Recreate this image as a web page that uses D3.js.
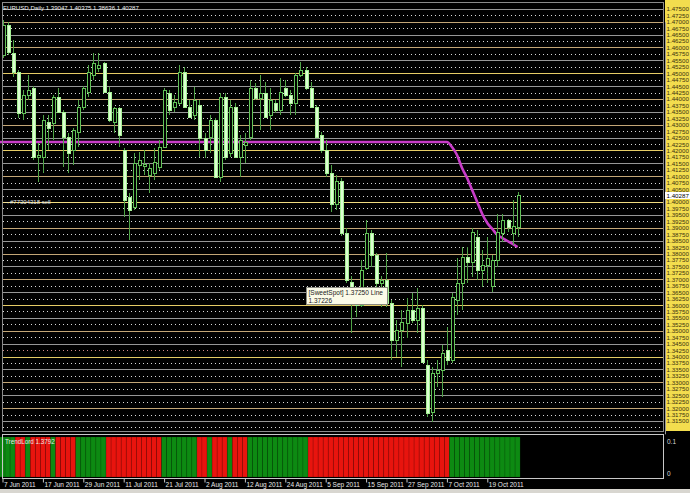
<!DOCTYPE html>
<html><head><meta charset="utf-8">
<script src="https://cdn.jsdelivr.net/npm/d3@7"></script>
<style>
html,body{margin:0;padding:0;background:#000;overflow:hidden}
svg{display:block}
text{font-family:"Liberation Sans",Arial,sans-serif}
</style></head><body>
<svg id="c" width="690" height="493"></svg>
<script>
// ---- DATA ----
const openP = [1.4571,1.4687,1.4578,1.4505,1.4346,1.4415,1.4443,1.4175,1.4175,1.4311,
1.4307,1.4408,1.4349,1.4252,1.4202,1.4272,1.4369,1.4427,1.4493,1.4520,
1.4540,1.4427,1.4311,1.4365,1.4202,1.4019,1.3981,1.4144,1.4140,1.4105,
1.4113,1.4136,1.4214,1.4423,1.4369,1.4384,1.4505,1.4369,1.4338,1.4377,
1.4248,1.4252,1.4318,1.4097,1.4408,1.4190,1.4369,1.4175,1.4221,1.4252,
1.4443,1.4404,1.4423,1.4338,1.4384,1.4357,1.4443,1.4415,1.4384,1.4493,
1.4512,1.4443,1.4369,1.4260,1.4202,1.4113,1.3992,1.4082,1.3880,1.3690,
1.3651,1.3600,1.3744,1.3880,1.3794,1.3686,1.3697,1.3608,1.3464,1.3503,
1.3530,1.3581,1.3542,1.3589,1.3367,1.3185,1.3336,1.3348,1.3426,1.3387,
1.3620,1.3686,1.3787,1.3767,1.3864,1.3736,1.3755,1.3675,1.3775,1.3880,
1.3930,1.3880,1.39047];
const highP = [1.4707,1.4699,1.4629,1.4512,1.4435,1.4493,1.4450,1.4229,1.4338,1.4338,
1.4415,1.4443,1.4357,1.4268,1.4287,1.4396,1.4450,1.4532,1.4578,1.4578,
1.4543,1.4446,1.4369,1.4369,1.4210,1.4035,1.4190,1.4194,1.4202,1.4151,
1.4210,1.4241,1.4443,1.4435,1.4415,1.4532,1.4524,1.4396,1.4446,1.4396,
1.4268,1.4338,1.4326,1.4423,1.4423,1.4396,1.4384,1.4260,1.4268,1.4474,
1.4462,1.4493,1.4466,1.4443,1.4396,1.4481,1.4474,1.4435,1.4501,1.4543,
1.4524,1.4466,1.4377,1.4272,1.4241,1.4144,1.4105,1.4093,1.3899,1.3713,
1.3666,1.3775,1.3930,1.3891,1.3802,1.3713,1.3802,1.3620,1.3542,1.3581,
1.3627,1.3647,1.3666,1.3600,1.3387,1.3360,1.3387,1.3445,1.3515,1.3647,
1.3783,1.3825,1.3825,1.3899,1.3891,1.3814,1.3864,1.3794,1.3953,1.3953,
1.3934,1.4008,1.40375];
const lowP = [1.4559,1.4571,1.4485,1.4326,1.4318,1.4396,1.4163,1.4078,1.4113,1.4202,
1.4241,1.4346,1.4136,1.4113,1.4144,1.4214,1.4357,1.4408,1.4474,1.4505,
1.4423,1.4311,1.4268,1.4214,1.3942,1.3853,1.3969,1.4085,1.4105,1.4035,
1.4085,1.4124,1.4210,1.4338,1.4349,1.4377,1.4365,1.4326,1.4318,1.4175,
1.4171,1.4190,1.4093,1.4078,1.4163,1.4175,1.4171,1.4097,1.4151,1.4241,
1.4396,1.4280,1.4326,1.4280,1.4346,1.4338,1.4408,1.4338,1.4338,1.4485,
1.4435,1.4365,1.4248,1.4190,1.4097,1.3961,1.3969,1.3868,1.3686,1.3491,
1.3554,1.3592,1.3736,1.3748,1.3658,1.3592,1.3592,1.3387,1.3398,1.3360,
1.3472,1.3530,1.3491,1.3375,1.3165,1.3146,1.3282,1.3243,1.3367,1.3375,
1.3561,1.3581,1.3686,1.3709,1.3697,1.3670,1.3686,1.3651,1.3748,1.3845,
1.3884,1.3833,1.38636];
const closeP = [1.4687,1.4582,1.4505,1.4346,1.4415,1.4435,1.4175,1.4182,1.4318,1.4287,
1.4408,1.4349,1.4252,1.4190,1.4280,1.4369,1.4443,1.4505,1.4540,1.4532,
1.4427,1.4318,1.4365,1.4260,1.4008,1.3969,1.4151,1.4163,1.4148,1.4132,
1.4155,1.4214,1.4435,1.4357,1.4388,1.4505,1.4369,1.4330,1.4396,1.4248,
1.4202,1.4318,1.4097,1.4408,1.4175,1.4369,1.4175,1.4241,1.4233,1.4443,
1.4404,1.4423,1.4330,1.4396,1.4357,1.4427,1.4415,1.4384,1.4493,1.4512,
1.4443,1.4369,1.4252,1.4202,1.4113,1.3992,1.4082,1.3880,1.3697,1.3651,
1.3600,1.3736,1.3880,1.3794,1.3686,1.3697,1.3608,1.3464,1.3503,1.3534,
1.3581,1.3542,1.3589,1.3379,1.3181,1.3336,1.3348,1.3414,1.3387,1.3631,
1.3686,1.3787,1.3767,1.3884,1.3736,1.3755,1.3783,1.3775,1.3884,1.3930,
1.3903,1.3905,1.40287];
// magenta SweetSpot line, one value per bar
const sweetSpot = [1.42329,1.42329,1.42329,1.42329,1.42329,1.42329,1.42329,1.42329,1.42329,1.42329,
1.42329,1.42329,1.42329,1.42329,1.42329,1.42329,1.42329,1.42329,1.42329,1.42329,
1.42329,1.42329,1.42329,1.42329,1.42329,1.42329,1.42329,1.42329,1.42329,1.42329,
1.42329,1.42329,1.42329,1.42329,1.42329,1.42329,1.42329,1.42329,1.42329,1.42329,
1.42329,1.42329,1.42329,1.42329,1.42329,1.42329,1.42329,1.42329,1.42329,1.42329,
1.42329,1.42329,1.42329,1.42329,1.42329,1.42329,1.42329,1.42329,1.42329,1.42329,
1.42329,1.42329,1.42329,1.42329,1.42329,1.42329,1.42329,1.42329,1.42329,1.42329,
1.42329,1.42329,1.42329,1.42329,1.42329,1.42329,1.42329,1.42329,1.42329,1.42329,
1.42329,1.42329,1.42329,1.42329,1.42329,1.42329,1.42329,1.42329,1.42329,1.42135,
1.41825,1.41320,1.40932,1.40466,1.40000,1.39534,1.39185,1.38952,1.38719,1.38602,
1.38486,1.38370,1.38253];
// TrendLord histogram: 1 = green, -1 = red
const trendDir = [1,1,1,-1,-1,1,-1,-1,-1,-1,
1,-1,-1,-1,-1,1,1,1,1,1,
1,-1,-1,-1,-1,-1,-1,-1,-1,-1,
-1,-1,1,1,1,1,1,1,1,-1,
-1,1,-1,-1,-1,1,-1,-1,-1,1,
1,1,1,1,1,1,1,1,1,1,
1,-1,-1,-1,-1,-1,-1,-1,-1,-1,
-1,-1,-1,-1,-1,-1,-1,-1,-1,-1,
-1,-1,-1,-1,-1,-1,-1,-1,-1,1,
1,1,1,1,1,1,1,1,1,1,
1,1,1];
const dateLabelIdx = [0,8,16,24,32,40,48,56,64,72,80,88,96];
const dateLabels = ["7 Jun 2011","17 Jun 2011","29 Jun 2011","11 Jul 2011","21 Jul 2011","2 Aug 2011",
"12 Aug 2011","24 Aug 2011","5 Sep 2011","15 Sep 2011","27 Sep 2011","7 Oct 2011","19 Oct 2011"];
const priceTickMin = 1.315, priceTickMax = 1.475, priceTickStep = 0.0025;
const yellowLevels = [1.45,1.42,1.40,1.36,1.34];
const redLevels = [1.3425];
const titleText = "EURUSD,Daily  1.39047 1.40375 1.38636 1.40287";
const lastPrice = 1.40287;
const orderLevel = 1.40000, orderText = "#77304318 sell";
const tipText1 = "[SweetSpot] 1.37250 Line", tipText2 = "1.37226";
const indName = "TrendLord 1.3792";
const indTicks = [0, 0.1];

// ---- DRAW ----
const svg = d3.select("#c");
const W = 690, H = 493;
const plotL = 2.5, plotR = 663.5, plotT = 2.5, plotB = 431.5;
const indT = 434.5, indB = 478.5;

svg.append("rect").attr("width",W).attr("height",H).attr("fill","#000");

const x = d3.scaleLinear().domain([0, closeP.length-1]).range([2.5, 517.6]);
const y = d3.scaleLinear().domain([1.31, 1.47]).range([433.84, 21.68]);
const yI = d3.scaleLinear().domain([0, 0.1]).range([477, 437]);

// grid / horizontal level lines
const gGrid = svg.append("g").attr("shape-rendering","crispEdges");
for (let k = 1; k <= 67; k++) {
  const units = 13100 + 25*k;           // price * 10000
  const p = units/10000;
  const yy = Math.round(y(p)) + 0.5;
  if (yy < 5 || yy > plotB) continue;
  let stroke = "#d8d8d8", dash = "1,3", sw = 1;
  if (units % 100 === 0) { stroke = "#c4a676"; dash = null; }
  else if (units % 50 === 0) { stroke = "#969696"; dash = null; }
  if (yellowLevels.some(v => Math.abs(v-p) < 1e-6)) { stroke = Math.abs(p-1.40)<1e-6 ? "#f2dc80" : "#e6cc66"; dash = null; }
  if (redLevels.some(v => Math.abs(v-p) < 1e-6)) { stroke = "#d08888"; }
  const ln = gGrid.append("line").attr("x1",plotL).attr("x2",plotR).attr("y1",yy).attr("y2",yy)
    .attr("stroke",stroke).attr("stroke-width",sw);
  if (dash) ln.attr("stroke-dasharray",dash);
}

// order label
svg.append("text").attr("x",4).attr("y",y(orderLevel)+2).attr("fill","#e8e8e8")
  .attr("font-size","6px").text("\u2192" + orderText);

// magenta line
svg.append("path").datum(sweetSpot)
  .attr("d", d3.line().x((d,i)=> i===0 ? 0 : x(i)).y(d=>y(d)).curve(d3.curveMonotoneX))
  .attr("fill","none").attr("stroke","#c83cc8").attr("stroke-width",2.6);

// candles
const gC = svg.append("g").attr("shape-rendering","crispEdges");
closeP.forEach((c,i) => {
  const o = openP[i], h = highP[i], l = lowP[i];
  const cx = Math.round(x(i)) + 0.5;
  gC.append("line").attr("x1",cx).attr("x2",cx).attr("y1",y(h)).attr("y2",y(l))
    .attr("stroke","#4fa447").attr("stroke-width",1);
  const top = Math.round(y(Math.max(o,c))) + 0.5;
  const bot = Math.max(top+1, Math.round(y(Math.min(o,c))) + 0.5);
  const bull = c >= o;
  gC.append("rect").attr("x",cx-1.5).attr("y",top).attr("width",3).attr("height",bot-top)
    .attr("fill", bull ? "#000" : "#dcffd2")
    .attr("stroke", bull ? "#62c258" : "#a4f094").attr("stroke-width",1);
});

// frame of main pane
svg.append("rect").attr("x",plotL).attr("y",plotT).attr("width",plotR-plotL).attr("height",plotB-plotT)
  .attr("fill","none").attr("stroke","#8a8a8a").attr("shape-rendering","crispEdges");

// title
svg.append("text").attr("x",3).attr("y",10).attr("fill","#f0f0f0").attr("font-size","6.1px").text(titleText);

// tooltip
const tip = svg.append("g").attr("transform","translate(306.5,287.5)");
tip.append("rect").attr("width",81).attr("height",17).attr("fill","#fbfbe8").attr("stroke","#8a8a80");
tip.append("text").attr("x",2).attr("y",7).attr("font-size","6.5px").attr("fill","#202020").text(tipText1);
tip.append("text").attr("x",2).attr("y",15).attr("font-size","6.5px").attr("fill","#202020").text(tipText2);

// right price axis
svg.append("rect").attr("x",665).attr("y",0).attr("width",25).attr("height",431).attr("fill","#f3dd4e");
const priceTicks = d3.range(Math.round(priceTickMin*10000), Math.round(priceTickMax*10000)+1, Math.round(priceTickStep*10000))
  .map(v=>v/10000)
  .filter(v => Math.abs(y(v) - y(lastPrice)) > 5);   // hidden under the current-price box
const ax = svg.append("g").attr("transform","translate(665,0)")
  .call(d3.axisRight(y).tickValues(priceTicks).tickFormat(d3.format(".5f")).tickSize(0).tickPadding(1.5));
ax.select(".domain").attr("stroke","#9a9a9a");
ax.selectAll("text").attr("font-size","6.2px").attr("fill","#3a3010").attr("font-family","Liberation Sans, Arial, sans-serif");
// current price box
const boxTop = Math.round(y(lastPrice) - 2.5);
svg.append("rect").attr("x",665).attr("y",boxTop).attr("width",25).attr("height",7).attr("fill","#ffffff");
svg.append("text").attr("x",666.5).attr("y",boxTop+5.8).attr("font-size","6.2px").attr("fill","#000").text(lastPrice.toFixed(5));

// indicator pane
const gI = svg.append("g");
trendDir.forEach((d,i) => {
  gI.append("rect").attr("x",x(i)-2.525).attr("y",yI(0.1)).attr("width",5.05).attr("height",yI(0)-yI(0.1))
    .attr("fill", d > 0 ? "#0d8a12" : "#e8140e")
    .attr("stroke","rgba(0,0,0,0.22)").attr("stroke-width",0.6);
});
svg.append("rect").attr("x",plotL).attr("y",indT).attr("width",plotR-plotL).attr("height",indB-indT)
  .attr("fill","none").attr("stroke","#c8c8c8").attr("shape-rendering","crispEdges");
svg.append("text").attr("x",5).attr("y",444).attr("font-size","6.3px").attr("fill","#e8e8e8").text(indName);
indTicks.forEach(v => {
  svg.append("text").attr("x",667).attr("y", v===0 ? 476 : 444).attr("font-size","6.5px").attr("fill","#d8d8d8").text(String(v));
});

// date axis
const dx = svg.append("g").attr("transform",`translate(0,${indB})`)
  .call(d3.axisBottom(x).tickValues(dateLabelIdx).tickFormat((d,i)=>dateLabels[i]).tickSize(4).tickSizeOuter(0));
dx.select(".domain").remove();
dx.selectAll(".tick line").attr("stroke","#c8c8c8");
dx.selectAll(".tick text").attr("text-anchor","start").attr("x",1).attr("dy",0).attr("y",8.5)
  .attr("font-size","6.5px").attr("fill","#e8e8e8").attr("font-family","Liberation Sans, Arial, sans-serif");

// bottom window strip
svg.append("rect").attr("x",0).attr("y",489).attr("width",W).attr("height",4).attr("fill","#d8d6d0");
</script>
</body></html>
